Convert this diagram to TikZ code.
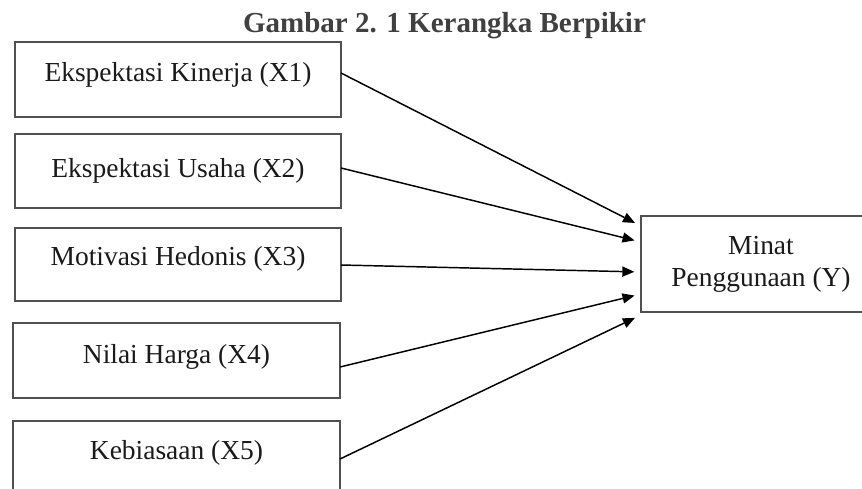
\documentclass[tikz,border=0pt]{standalone}
\usepackage{fontspec}
\setmainfont{Liberation Serif}
\usetikzlibrary{arrows.meta}
\definecolor{boxline}{HTML}{505050}
\definecolor{titlegray}{HTML}{404040}
\definecolor{txt}{HTML}{1A1A1A}
\begin{document}
\begin{tikzpicture}[x=0.75pt,y=-0.75pt,
  varbox/.style={draw=boxline, line width=1.3pt, rectangle, inner sep=0pt, outer sep=0pt,
    text=txt, font=\fontsize{20.6pt}{24pt}\selectfont, align=center},
  lift/.style={text height=14pt, text depth=#1},
  link/.style={line width=1.1pt, black, -{Triangle[length=9pt,width=7.5pt]}, shorten >=5pt}]
\useasboundingbox (0,0) rectangle (862,488);
\clip (0,0) rectangle (862,488);
\fill[white] (0,0) rectangle (862,488);
\node[text=titlegray, font=\fontsize{21.75pt}{24pt}\selectfont\bfseries] (title) at (444.5,26) {Gambar 2. 1 Kerangka Berpikir};
\node[varbox, lift=11.1pt, minimum width=244.5pt, minimum height=56.25pt] (b1) at (178,79.5) {Ekspektasi Kinerja (X1)};
\node[varbox, lift=4.3pt, minimum width=244.5pt, minimum height=55.5pt] (b2) at (178,171) {Ekspektasi Usaha (X2)};
\node[varbox, lift=13pt, minimum width=244.5pt, minimum height=54.75pt] (b3) at (178,264.5) {Motivasi Hedonis (X3)};
\node[varbox, lift=9.5pt, minimum width=245.25pt, minimum height=56.25pt] (b4) at (176.5,360.5) {Nilai Harga (X4)};
\node[varbox, lift=12pt, minimum width=245.25pt, minimum height=56.25pt] (b5) at (176.5,458.5) {Kebiasaan (X5)};
\node[varbox, minimum width=180pt, minimum height=72pt] (y) at (761,264) {Minat\\Penggunaan (Y)};
\draw[link] (b1.east |- 0,73) -- (y.west |- 0,226);
\draw[link] (b2.east |- 0,168) -- (y.west |- 0,242);
\draw[link] (b3.east |- 0,265) -- (y.west |- 0,272);
\draw[link] (b4.east |- 0,367) -- (y.west |- 0,294);
\draw[link] (b5.east |- 0,459) -- (y.west |- 0,315);
\end{tikzpicture}
\end{document}
